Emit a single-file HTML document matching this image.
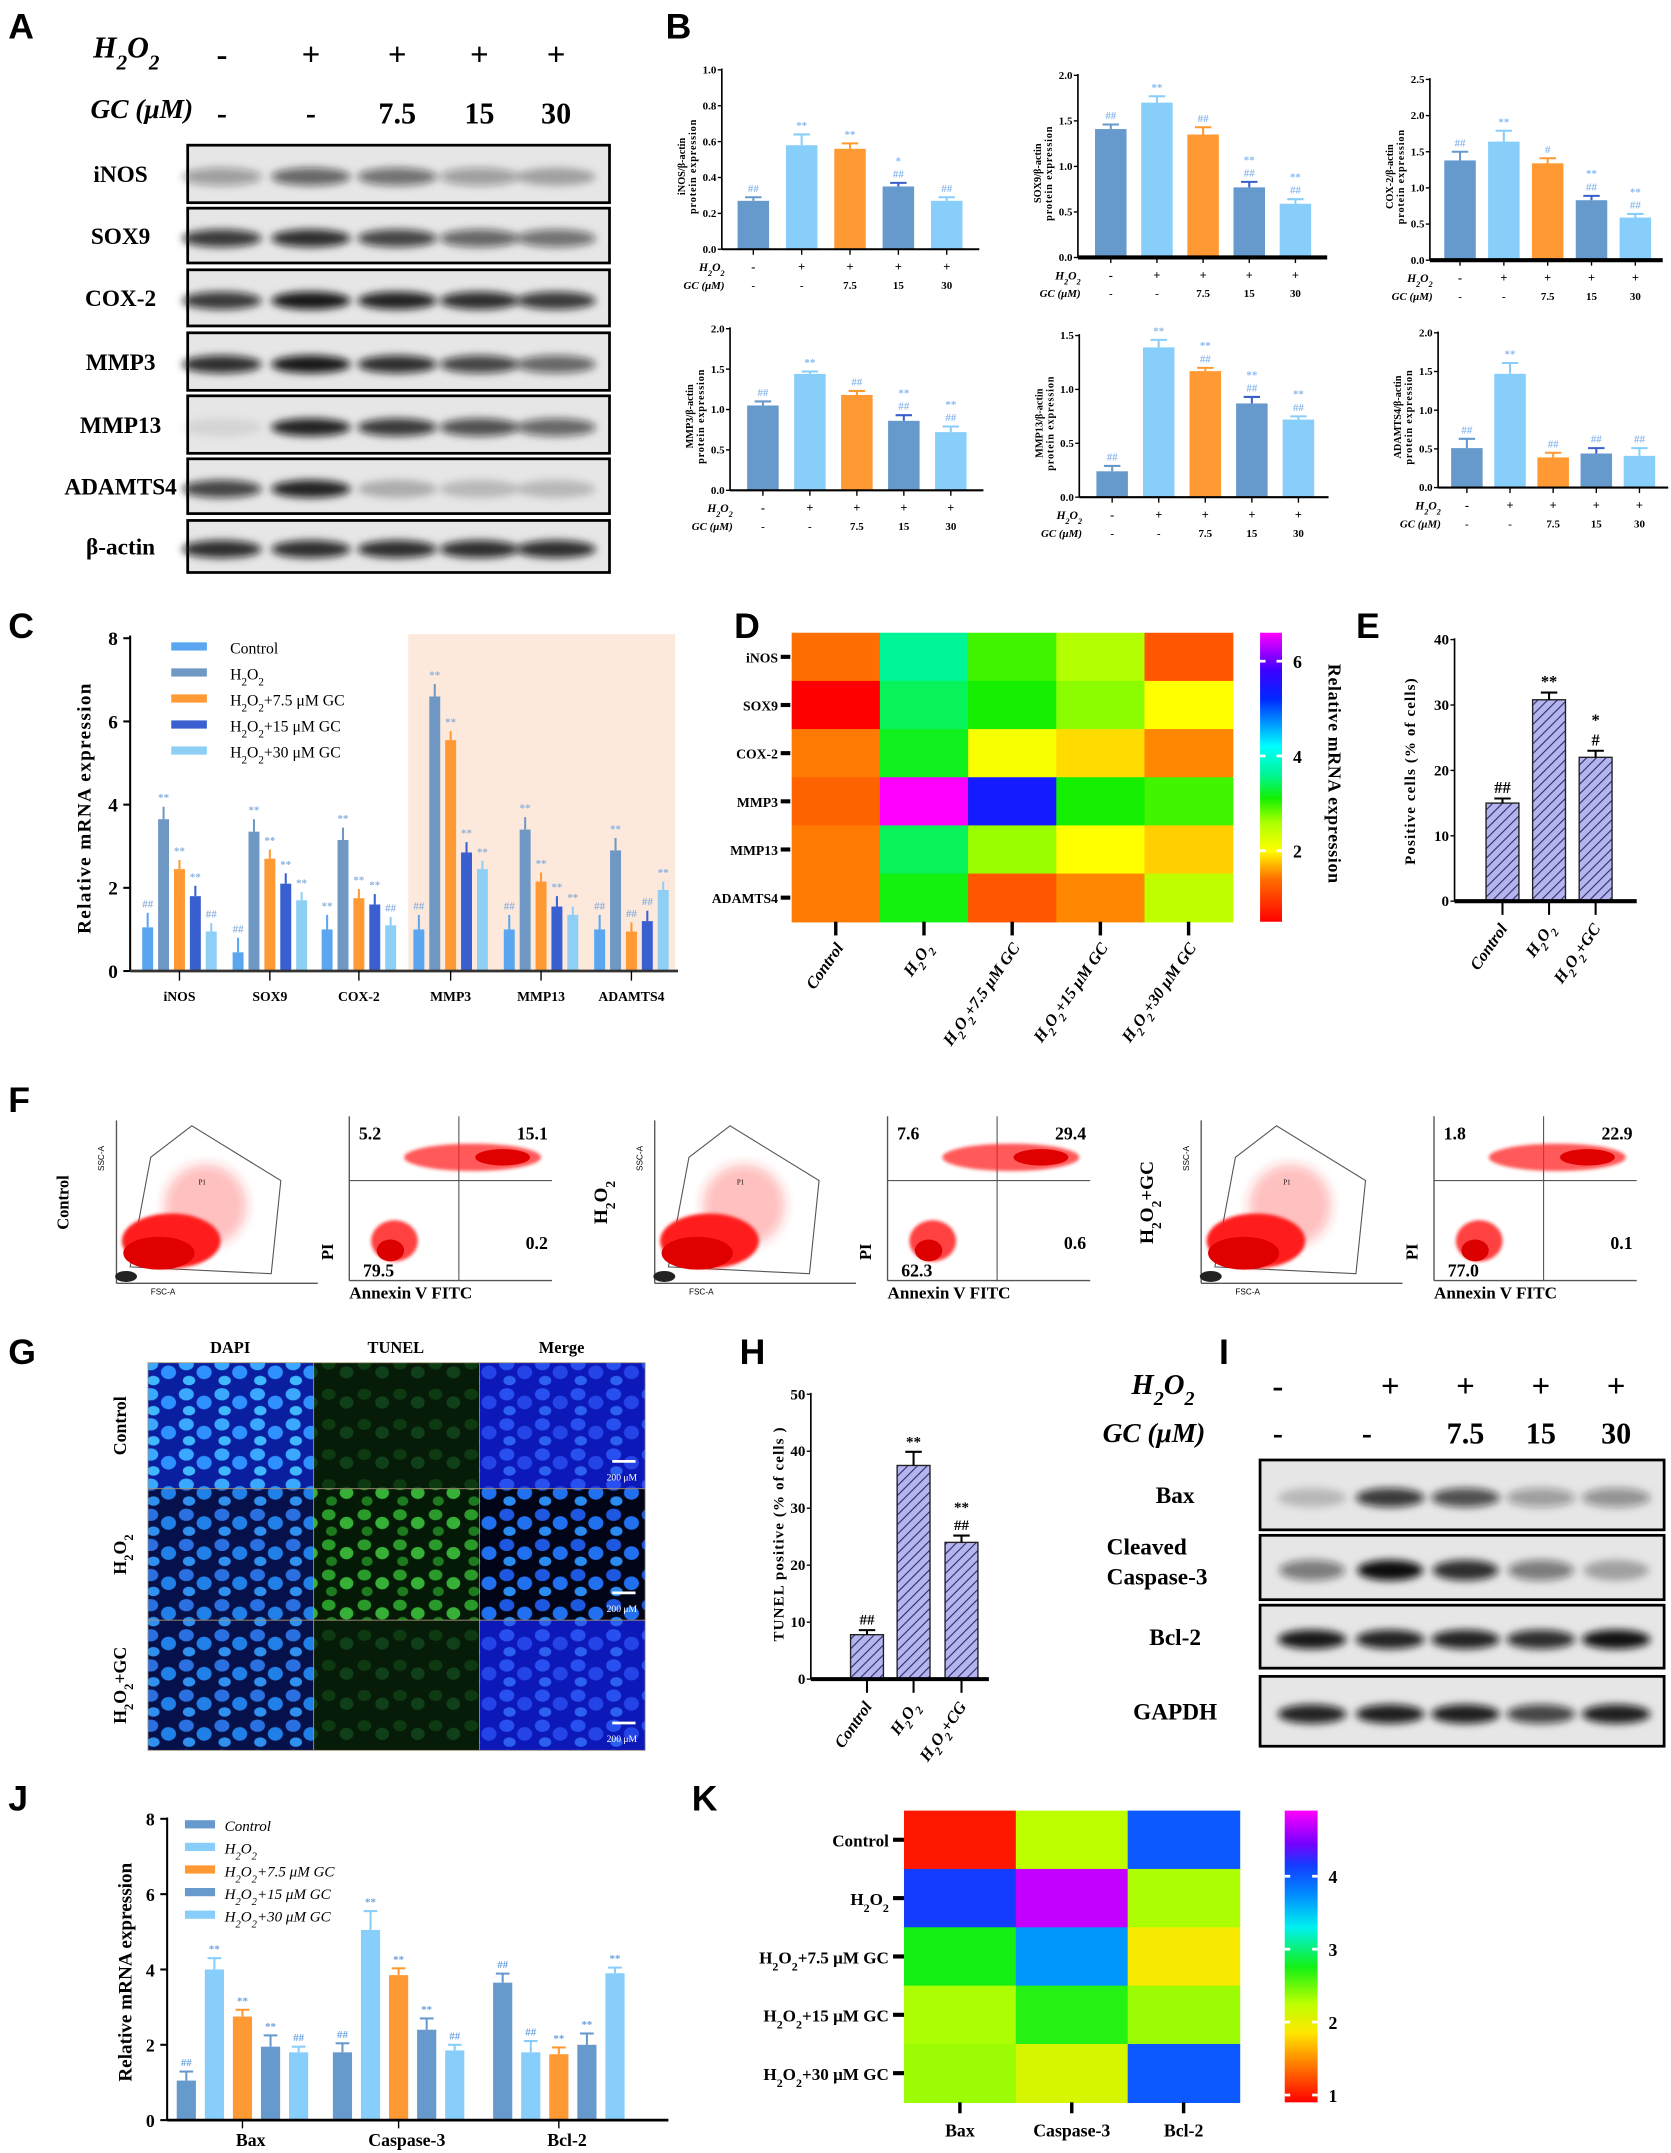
<!DOCTYPE html>
<html><head><meta charset="utf-8"><style>body{margin:0;background:#fff}svg{display:block}</style></head><body>
<svg id="fig" xmlns="http://www.w3.org/2000/svg" width="1671" height="2153" viewBox="0 0 1220 1572" font-family="Liberation Serif, serif">
<defs>
<filter id="blur3" x="-30%" y="-80%" width="160%" height="260%"><feGaussianBlur stdDeviation="3"/></filter>
<filter id="blur1"><feGaussianBlur stdDeviation="1.2"/></filter>
<filter id="blur2"><feGaussianBlur stdDeviation="4"/></filter>
<pattern id="hatch" width="5" height="5" patternUnits="userSpaceOnUse" patternTransform="rotate(45)"><rect width="5" height="5" fill="#b4b4ee"/><line x1="0" y1="0" x2="0" y2="5" stroke="#2a2a6a" stroke-width="1.6"/></pattern>
<pattern id="nucB" width="26" height="22" patternUnits="userSpaceOnUse"><rect width="26" height="22" fill="#0a1fa0"/><ellipse cx="6" cy="6" rx="5.5" ry="4.5" fill="#3aa8ff"/><ellipse cx="19" cy="12" rx="5.5" ry="5" fill="#2f90ff"/><ellipse cx="8" cy="18" rx="4.5" ry="3.5" fill="#40b8ff"/></pattern>
<pattern id="nucB2" width="26" height="22" patternUnits="userSpaceOnUse"><rect width="26" height="22" fill="#06104a"/><ellipse cx="6" cy="6" rx="5.5" ry="4.5" fill="#2a70e0"/><ellipse cx="19" cy="12" rx="5.5" ry="5" fill="#2080e8"/><ellipse cx="8" cy="18" rx="4.5" ry="3.5" fill="#3090f0"/></pattern>
<pattern id="nucM" width="26" height="22" patternUnits="userSpaceOnUse"><rect width="26" height="22" fill="#0c18b8"/><ellipse cx="6" cy="6" rx="5.5" ry="4.5" fill="#2850f0"/><ellipse cx="19" cy="12" rx="5.5" ry="5" fill="#2444e8"/><ellipse cx="8" cy="18" rx="4.5" ry="3.5" fill="#2c60f0"/></pattern>
<pattern id="nucM2" width="26" height="22" patternUnits="userSpaceOnUse"><rect width="26" height="22" fill="#020418"/><ellipse cx="6" cy="6" rx="5.5" ry="4.5" fill="#1e58e0"/><ellipse cx="19" cy="12" rx="5.5" ry="5" fill="#2070f0"/><ellipse cx="8" cy="18" rx="4.5" ry="3.5" fill="#2a8cf0"/></pattern>
<pattern id="nucG" width="26" height="22" patternUnits="userSpaceOnUse"><rect width="26" height="22" fill="#041a06"/><ellipse cx="6" cy="6" rx="5" ry="4" fill="#2a9a2a"/><ellipse cx="19" cy="12" rx="5" ry="4.5" fill="#36b036"/><ellipse cx="8" cy="18" rx="4" ry="3.5" fill="#1e7a1e"/></pattern>
<pattern id="nucG2" width="26" height="22" patternUnits="userSpaceOnUse"><rect width="26" height="22" fill="#061c08"/><ellipse cx="6" cy="6" rx="5" ry="4" fill="#0e3a12"/><ellipse cx="19" cy="12" rx="5" ry="4.5" fill="#10401a"/></pattern>
</defs>
<g id="root"></g>
</svg>
<script>
const S='http://www.w3.org/2000/svg';
const root=document.getElementById('root');
function mk(t,a,p){const e=document.createElementNS(S,t);for(const k in a)e.setAttribute(k,a[k]);(p||root).appendChild(e);return e;}
function sub(s){return s.replace(/H2O2/g,'H<tspan baseline-shift="sub" font-size="70%">2</tspan>O<tspan baseline-shift="sub" font-size="70%">2</tspan>');}
function tx(x,y,s,a,nm,p){const e=mk('text',Object.assign({x:x,y:y},a||{}),p);e.innerHTML=sub(s);


return e;}

/* ---------- DATA ---------- */
const bH2O2=['-','+','+','+','+'];
const bGC=['-','-','7.5','15','30'];
const inosVals=[0.27,0.58,0.56,0.35,0.27];
const inosErr=[0.02,0.06,0.03,0.02,0.02];
const sox9Vals=[1.41,1.70,1.35,0.77,0.59];
const sox9Err=[0.05,0.07,0.08,0.06,0.05];
const cox2Vals=[1.38,1.64,1.34,0.83,0.59];
const cox2Err=[0.12,0.15,0.07,0.06,0.05];
const mmp3Vals=[1.05,1.44,1.18,0.86,0.72];
const mmp3Err=[0.05,0.03,0.05,0.07,0.07];
const mmp13Vals=[0.24,1.39,1.17,0.87,0.72];
const mmp13Err=[0.05,0.07,0.03,0.06,0.03];
const adamVals=[0.51,1.47,0.39,0.44,0.41];
const adamErr=[0.12,0.14,0.06,0.07,0.1];
const bAnnInos=['##','**','**','*\n##','##'];
const bAnnSox=['##','**','##','**\n##','**\n##'];
const bAnnCox=['##','**','#','**\n##','**\n##'];
const bAnnMmp3=['##','**','##','**\n##','**\n##'];
const bAnnMmp13=['##','**','**\n##','**\n##','**\n##'];
const bAnnAdam=['##','**','##','##','##'];

const cGenes=['iNOS','SOX9','COX-2','MMP3','MMP13','ADAMTS4'];
const cControl=[1.05,0.45,1.0,1.0,1.0,1.0];
const cH2O2=[3.65,3.35,3.15,6.6,3.4,2.9];
const cGC75=[2.45,2.7,1.75,5.55,2.15,0.95];
const cGC15=[1.8,2.1,1.6,2.85,1.55,1.2];
const cGC30=[0.95,1.7,1.1,2.45,1.35,1.95];
const cErr=[0.35,0.3,0.22,0.25,0.2];
const cTicks=[0,2,4,6,8];
const cLegend=['Control','H2O2','H2O2+7.5 μM GC','H2O2+15 μM GC','H2O2+30 μM GC'];

const dRows=['iNOS','SOX9','COX-2','MMP3','MMP13','ADAMTS4'];
const dCols=['Control','H2O2','H2O2+7.5 μM GC','H2O2+15 μM GC','H2O2+30 μM GC'];
const dInos=[1.4,3.6,2.95,2.55,1.2];
const dSox9=[0.5,3.4,3.1,2.7,2.0];
const dCox2=[1.45,3.2,2.05,1.85,1.5];
const dMmp3=[1.3,6.6,5.4,3.1,2.95];
const dMmp13=[1.45,3.4,2.65,2.0,1.8];
const dAdam=[1.45,3.15,1.2,1.5,2.45];
const dTicks=[2,4,6];

const eCats=['Control','H2O2','H2O2+GC'];
const eVals=[15,30.8,22];
const eErr=[0.7,1.1,1.0];
const eAnn=['##','**','*\n#'];
const eTicks=[0,10,20,30,40];

const hCats=['Control','H2O2','H2O2+CG'];
const hVals=[7.8,37.5,24];
const hErr=[0.8,2.4,1.2];
const hAnn=['##','**','**\n##'];
const hTicks=[0,10,20,30,40,50];

const jGenes=['Bax','Caspase-3','Bcl-2'];
const jControl=[1.05,1.8,3.65];
const jH2O2=[4.0,5.05,1.8];
const jGC75=[2.75,3.85,1.75];
const jGC15=[1.95,2.4,2.0];
const jGC30=[1.8,1.85,3.9];
const jErr=[0.4,0.5,0.3,0.5,0.25];
const jTicks=[0,2,4,6,8];
const jLegend=['Control','H2O2','H2O2+7.5 μM GC','H2O2+15 μM GC','H2O2+30 μM GC'];

const kRows=['Control','H2O2','H2O2+7.5 μM GC','H2O2+15 μM GC','H2O2+30 μM GC'];
const kCols=['Bax','Caspase-3','Bcl-2'];
const kControl=[1.0,2.25,4.0];
const kH2O2=[4.15,4.7,2.3];
const kGC75=[2.75,3.7,1.9];
const kGC15=[2.3,2.7,2.35];
const kGC30=[2.35,2.1,4.0];
const kTicks=[1,2,3,4];

/* ---------- PANEL LETTERS ---------- */
[['A',6,28],['B',486,28],['C',6,466],['D',536,466],['E',990,466],['F',6,812],['G',6,996],['H',540,996],['I',890,996],['J',6,1322],['K',505,1322]].forEach(function(l){
 const t=tx(l[1],l[2],l[0],{'font-family':'Liberation Sans, sans-serif','font-weight':'bold','font-size':26},'panel-label-'+l[0].toLowerCase());
});

/* ---------- BLOTS ---------- */
function blot(x0,x1,y0,y1,lanes,ints,nm,bw,bh){
 const g=mk('g',{});
 
 
 mk('rect',{x:x0,y:y0,width:x1-x0,height:y1-y0,fill:'#e6e6e6',stroke:'#000','stroke-width':2},g);
 lanes.forEach(function(lx,i){
  const b=mk('ellipse',{cx:lx,cy:(y0+y1)/2+2,rx:bw/2,ry:bh/2,fill:'#111','fill-opacity':ints[i],filter:'url(#blur3)'},g);
  
  
 });
}
// Panel A
tx(68,42,'H2O2',{'font-size':22,'font-weight':'bold','font-style':'italic'},'a-h2o2-label');
tx(66,86,'GC (μM)',{'font-size':20,'font-weight':'bold','font-style':'italic'},'a-gc-label');
const aLanes=[162,227,290,350,406];
aLanes.forEach(function(x,i){
 tx(x,48,bH2O2[i],{'font-size':24,'font-weight':'bold','text-anchor':'middle'},'a-h2o2-sign');
 tx(x,90,bGC[i],{'font-size':22,'font-weight':'bold','text-anchor':'middle'},'a-gc-dose');
});
const aRows=[['iNOS',106,148,[0.35,0.6,0.55,0.35,0.3]],['SOX9',152,192,[0.8,0.85,0.75,0.6,0.55]],['COX-2',197,238,[0.8,0.95,0.9,0.85,0.8]],['MMP3',243,285,[0.85,0.95,0.85,0.75,0.6]],['MMP13',289,331,[0.08,0.9,0.8,0.7,0.6]],['ADAMTS4',335,375,[0.75,0.9,0.25,0.2,0.2]],['β-actin',380,418,[0.85,0.85,0.85,0.85,0.85]]];
aRows.forEach(function(r){
 tx(88,(r[1]+r[2])/2+6,r[0],{'font-size':17,'font-weight':'bold','text-anchor':'middle'},'a-row-label');
 blot(137,445,r[1],r[2],aLanes,r[3],'a-blot-'+r[0].toLowerCase(),58,13);
});
// Panel I
tx(826,1018,'H2O2',{'font-size':21,'font-weight':'bold','font-style':'italic'},'i-h2o2-label');
tx(805,1053,'GC (μM)',{'font-size':20,'font-weight':'bold','font-style':'italic'},'i-gc-label');
const iLanes=[958,1015,1070,1125,1180];
iLanes.forEach(function(x,i){
 tx(x-(i==0?25:0),1020,bH2O2[i]=='-'?'-':'+',{'font-size':24,'font-weight':'bold','text-anchor':'middle'},'i-h2o2-sign');
 tx(x-(i<2?25:0)+ (i==1?8:0),1054,bGC[i],{'font-size':22,'font-weight':'bold','text-anchor':'middle'},'i-gc-dose');
});
const iRows=[['Bax',1066,1117,[0.2,0.8,0.7,0.35,0.4]],['Bcl-2',1172,1218,[0.95,0.9,0.9,0.85,0.98]],['GAPDH',1224,1275,[0.9,0.92,0.92,0.75,0.92]]];
iRows.forEach(function(r){
 tx(858,(r[1]+r[2])/2+6,r[0],{'font-size':17,'font-weight':'bold','text-anchor':'middle'},'i-row-label');
 blot(920,1215,r[1],r[2],iLanes,r[3],'i-blot-'+r[0].toLowerCase(),50,14);
});
tx(808,1135,'Cleaved',{'font-size':17,'font-weight':'bold'},'i-row-label');
tx(808,1157,'Caspase-3',{'font-size':17,'font-weight':'bold'},'i-row-label');
blot(920,1215,1121,1168,iLanes,[0.5,1,0.85,0.5,0.3],'i-blot-cleaved-caspase3',48,15);

/* ---------- BAR CHART helper ---------- */
function bars(o){
 const g=mk('g',{});
 
 
 const sy=function(v){return o.y0-(v/o.max)*(o.y0-o.yTop);};
 o.ticks.forEach(function(t){
  mk('line',{x1:o.ax-3,x2:o.ax,y1:sy(t),y2:sy(t),stroke:'#000','stroke-width':1},g);
  tx(o.ax-4,sy(t)+o.tfs/3,o.fmt?o.fmt(t):String(t),{'font-size':o.tfs,'font-weight':'bold','text-anchor':'end'},'y-tick-label',g);
 });
 const ya=mk('line',{x1:o.ax,x2:o.ax,y1:o.yTop-1,y2:o.y0,stroke:'#000','stroke-width':1.2},g);
 
 
 o.vals.forEach(function(v,i){
  const x=o.xs[i];
  const r=mk('rect',{x:x-o.bw/2,y:sy(v),width:o.bw,height:o.y0-sy(v),fill:o.cols[i]},g);
  
  
  if(o.stroke) r.setAttribute('stroke',o.stroke);
  const ec=o.ecols?o.ecols[i]:o.cols[i];
  const e=v+o.errs[i];
  mk('line',{x1:x,x2:x,y1:sy(v),y2:sy(e),stroke:ec,'stroke-width':1.5},g);
  mk('line',{x1:x-o.cap,x2:x+o.cap,y1:sy(e),y2:sy(e),stroke:ec,'stroke-width':1.5},g);
  if(o.ann&&o.ann[i]){
   const parts=o.ann[i].split('\n');
   parts.forEach(function(p,k){
    tx(x,sy(e)-4-(parts.length-1-k)*o.afs*1.2,p,{'font-size':o.afs,'font-weight':'bold','text-anchor':'middle',fill:o.acol},'significance-mark',g);
   });
  }
 });
 const xa=mk('line',{x1:o.ax,x2:o.x1,y1:o.y0,y2:o.y0,stroke:'#000','stroke-width':o.xw||1.5},g);
 
 
 return {g:g,sy:sy};
}

/* ---------- PANEL B ---------- */
const bColors=['#6699cc','#87cefa','#ff9933','#6699cc','#87cefa'];
const bErrCols=['#6699cc','#87cefa','#ff9933','#3a5fcd','#87cefa'];
const bCharts=[
 {ax:527,x1:715,bx:550,st:35.3,yTop:51,y0:182,max:1.0,ticks:[0,0.2,0.4,0.6,0.8,1.0],v:inosVals,e:inosErr,a:bAnnInos,lab:'iNOS/β-actin',nm:'b-inos-chart',xw:1.5},
 {ax:787,x1:969,bx:811,st:33.7,yTop:55,y0:188,max:2.0,ticks:[0,0.5,1.0,1.5,2.0],v:sox9Vals,e:sox9Err,a:bAnnSox,lab:'SOX9/β-actin',nm:'b-sox9-chart',xw:3},
 {ax:1044,x1:1214,bx:1066,st:32,yTop:58,y0:190,max:2.5,ticks:[0,0.5,1.0,1.5,2.0,2.5],v:cox2Vals,e:cox2Err,a:bAnnCox,lab:'COX-2/β-actin',nm:'b-cox2-chart',xw:3},
 {ax:533,x1:718,bx:557,st:34.3,yTop:240,y0:358,max:2.0,ticks:[0,0.5,1.0,1.5,2.0],v:mmp3Vals,e:mmp3Err,a:bAnnMmp3,lab:'MMP3/β-actin',nm:'b-mmp3-chart',xw:1.5},
 {ax:788,x1:970,bx:812,st:34,yTop:245,y0:363,max:1.5,ticks:[0,0.5,1.0,1.5],v:mmp13Vals,e:mmp13Err,a:bAnnMmp13,lab:'MMP13/β-actin',nm:'b-mmp13-chart',xw:1.5},
 {ax:1050,x1:1218,bx:1071,st:31.5,yTop:243,y0:356,max:2.0,ticks:[0,0.5,1.0,1.5,2.0],v:adamVals,e:adamErr,a:bAnnAdam,lab:'ADAMTS4/β-actin',nm:'b-adamts4-chart',xw:1.5}
];
bCharts.forEach(function(c){
 const xs=[0,1,2,3,4].map(function(i){return c.bx+i*c.st;});
 const r=bars({ax:c.ax,x1:c.x1,y0:c.y0,yTop:c.yTop,max:c.max,ticks:c.ticks,vals:c.v,errs:c.e,xs:xs,cols:bColors,ecols:bErrCols,bw:23,cap:6,ann:c.a,afs:8,acol:'#8ab8ee',tfs:8,name:c.nm,xw:c.xw,fmt:function(t){return t.toFixed(1);}});
 xs.forEach(function(x,i){
  mk('line',{x1:x,x2:x,y1:c.y0,y2:c.y0+4,stroke:'#000'},r.g);
  tx(x,c.y0+16,bH2O2[i],{'font-size':9,'font-weight':'bold','text-anchor':'middle'},'x-h2o2-sign',r.g);
  tx(x,c.y0+29,bGC[i],{'font-size':8,'font-weight':'bold','text-anchor':'middle'},'x-gc-dose',r.g);
 });
 tx(c.ax+2,c.y0+16,'H2O2',{'font-size':8.5,'font-weight':'bold','font-style':'italic','text-anchor':'end'},'x-h2o2-label',r.g);
 tx(c.ax+2,c.y0+29,'GC (μM)',{'font-size':8,'font-weight':'bold','font-style':'italic','text-anchor':'end'},'x-gc-label',r.g);
 const cy=(c.y0+c.yTop)/2+5;
 tx(c.ax-27,cy,c.lab,{'font-size':7.5,'font-weight':'bold','text-anchor':'middle',transform:'rotate(-90 '+(c.ax-27)+' '+cy+')'},'y-axis-title',r.g);
 tx(c.ax-19,cy,'protein expression',{'font-size':7.5,'font-weight':'bold','text-anchor':'middle','letter-spacing':0.6,transform:'rotate(-90 '+(c.ax-19)+' '+cy+')'},'y-axis-title',r.g);
});

/* ---------- PANEL C ---------- */
mk('rect',{x:298,y:463,width:195,height:246,fill:'#fde9dc'});
const cCols=['#5aa6f0','#7098c4','#ff9933','#3a5fd0','#8ecff5'];
const cSeries=[cControl,cH2O2,cGC75,cGC15,cGC30];
const cCenters=[131,197,262,329,395,461];
const cG=mk('g',{});


const cSy=function(v){return 709-v/8*243;};
cTicks.forEach(function(t){
 mk('line',{x1:90,x2:95,y1:cSy(t),y2:cSy(t),stroke:'#000','stroke-width':1.5},cG);
 tx(86,cSy(t)+5,String(t),{'font-size':14,'font-weight':'bold','text-anchor':'end'},'c-y-tick',cG);
});
mk('line',{x1:95,x2:95,y1:464,y2:709,stroke:'#000','stroke-width':1.5},cG);
cSeries.forEach(function(ser,s){
 ser.forEach(function(v,g){
  const x=cCenters[g]+(s-2)*11.6;
  const r=mk('rect',{x:x-4,y:cSy(v),width:8,height:709-cSy(v),fill:cCols[s]},cG);
  
  
  mk('line',{x1:x,x2:x,y1:cSy(v),y2:cSy(v+cErr[s]),stroke:cCols[s],'stroke-width':1.5},cG);
  const mark=(s==0)?(g==2?'**':'##'):(s==1?'**':(v>1.3?'**':'##'));
  tx(x,cSy(v+cErr[s])-4,mark,{'font-size':8,'font-weight':'bold','text-anchor':'middle',fill:'#8ab0dd'},'c-significance',cG);
 });
});
mk('line',{x1:95,x2:495,y1:709,y2:709,stroke:'#333','stroke-width':2},cG);
cGenes.forEach(function(n,g){
 mk('line',{x1:cCenters[g],x2:cCenters[g],y1:709,y2:716,stroke:'#000'},cG);
 tx(cCenters[g],731,n,{'font-size':10,'font-weight':'bold','text-anchor':'middle'},'c-x-label',cG);
});
const cyT=590;
tx(66,cyT,'Relative mRNA expression',{'font-size':14,'font-weight':'bold','text-anchor':'middle','letter-spacing':1,transform:'rotate(-90 66 '+cyT+')'},'c-y-axis-title',cG);
cLegend.forEach(function(l,i){
 const y=474+i*19;
 const sw=mk('rect',{x:125,y:y-5,width:26,height:6,fill:cCols[i]},cG);
 
 
 tx(168,y+3,l,{'font-size':11.5},'c-legend-entry',cG);
});

/* ---------- HEATMAP helper ---------- */
function lerpColor(stops,v){
 if(v<=stops[0][0])return stops[0][1];
 for(let i=1;i<stops.length;i++){
  if(v<=stops[i][0]){const a=stops[i-1],b=stops[i];const f=(v-a[0])/(b[0]-a[0]);
   return 'rgb('+[0,1,2].map(function(k){return Math.round(a[1][k]+(b[1][k]-a[1][k])*f);}).join(',')+')';}
 }
 return stops[stops.length-1][1];
}
function toRgb(c){return typeof c==='string'?c:'rgb('+c.join(',')+')';}
function heat(o){
 const g=mk('g',{});
 
 
 const cw=(o.x1-o.x0)/o.cols.length, rh=(o.y1-o.y0)/o.rows.length;
 o.data.forEach(function(row,r){
  row.forEach(function(v,c){
   const cell=mk('rect',{x:o.x0+c*cw,y:o.y0+r*rh,width:cw+0.5,height:rh+0.5,fill:toRgb(lerpColor(o.stops,v))},g);
   
   
  });
 });
 const gid=o.name+'-grad';
 const lg=mk('linearGradient',{id:gid,x1:0,y1:1,x2:0,y2:0},document.querySelector('defs'));
 o.stops.forEach(function(s){mk('stop',{offset:(s[0]-o.vmin)/(o.vmax-o.vmin),'stop-color':toRgb(s[1])},lg);});
 const cb=mk('rect',{x:o.cbx,y:o.y0,width:o.cbw,height:o.y1-o.y0,fill:'url(#'+gid+')'},g);
 
 
 const cy=function(v){return o.y1-(v-o.vmin)/(o.vmax-o.vmin)*(o.y1-o.y0);};
 o.ticks.forEach(function(t){
  mk('line',{x1:o.cbx+o.cbw-4,x2:o.cbx+o.cbw,y1:cy(t),y2:cy(t),stroke:'#fff','stroke-width':2},g);
  mk('line',{x1:o.cbx,x2:o.cbx+4,y1:cy(t),y2:cy(t),stroke:'#fff','stroke-width':2},g);
  tx(o.cbx+o.cbw+8,cy(t)+5,String(t),{'font-size':o.tfs,'font-weight':'bold'},'colorbar-tick',g);
 });
 return {g:g,cw:cw,rh:rh};
}

/* ---------- PANEL D ---------- */
const dStops=[[0.5,[255,0,0]],[1.4,[255,110,0]],[2.0,[255,255,0]],[2.6,[170,255,0]],[3.1,[20,240,0]],[3.6,[0,245,150]],[4.2,[0,255,255]],[5.2,[0,40,255]],[5.8,[60,0,255]],[6.6,[255,0,255]]];
const D=heat({name:'d-heatmap',x0:578,x1:900,y0:462,y1:673,rows:dRows,cols:dCols,data:[dInos,dSox9,dCox2,dMmp3,dMmp13,dAdam],stops:dStops,vmin:0.5,vmax:6.6,cbx:920,cbw:16,ticks:dTicks,tfs:13});
dRows.forEach(function(n,r){
 const y=462+(r+0.5)*D.rh;
 mk('line',{x1:570,x2:577,y1:y,y2:y,stroke:'#000','stroke-width':3},D.g);
 tx(568,y+4,n,{'font-size':10,'font-weight':'bold','text-anchor':'end'},'d-row-label',D.g);
});
dCols.forEach(function(n,c){
 const x=578+(c+0.5)*D.cw;
 mk('line',{x1:x,x2:x,y1:673,y2:683,stroke:'#000','stroke-width':2.5},D.g);
 tx(x+6,692,n,{'font-size':12,'font-weight':'bold','font-style':'italic','text-anchor':'end',transform:'rotate(-55 '+(x+6)+' 692)'},'d-col-label',D.g);
});
tx(970,565,'Relative mRNA expression',{'font-size':13,'font-weight':'bold','text-anchor':'middle','letter-spacing':0.5,transform:'rotate(90 970 565)'},'d-colorbar-title',D.g);

/* ---------- PANEL E ---------- */
const eXs=[1097,1131,1165];
const E=bars({ax:1062,x1:1195,y0:658,yTop:467,max:40,ticks:eTicks,vals:eVals,errs:eErr,xs:eXs,cols:['url(#hatch)','url(#hatch)','url(#hatch)'],ecols:['#000','#000','#000'],stroke:'#222',bw:24,cap:6,ann:eAnn,afs:12,acol:'#000',tfs:11,name:'e-positive-cells-chart',xw:3});
eXs.forEach(function(x,i){
 mk('line',{x1:x,x2:x,y1:658,y2:668,stroke:'#000','stroke-width':1.5},E.g);
 tx(x+4,678,eCats[i],{'font-size':12,'font-weight':'bold','font-style':'italic','text-anchor':'end',transform:'rotate(-55 '+(x+4)+' 678)'},'e-x-label',E.g);
});
tx(1033,563,'Positive cells (% of cells)',{'font-size':11,'font-weight':'bold','text-anchor':'middle','letter-spacing':0.8,transform:'rotate(-90 1033 563)'},'e-y-axis-title',E.g);

/* ---------- PANEL F (flow cytometry) ---------- */
const fGroups=[{dx:0,name:'Control',q:['5.2','15.1','79.5','0.2']},{dx:393,name:'H2O2',q:['7.6','29.4','62.3','0.6']},{dx:792,name:'H2O2+GC',q:['1.8','22.9','77.0','0.1']}];
fGroups.forEach(function(gr,gi){
 const g=mk('g',{transform:'translate('+gr.dx+',0)'});
 
 
 mk('line',{x1:85,x2:85,y1:818,y2:937,stroke:'#555'},g);
 mk('line',{x1:85,x2:232,y1:937,y2:937,stroke:'#555'},g);
 mk('polygon',{points:'95,925 110,845 140,822 205,862 198,930',fill:'none',stroke:'#555','stroke-width':0.8},g);
 mk('ellipse',{cx:150,cy:880,rx:30,ry:30,fill:'#ff3030','fill-opacity':0.3,filter:'url(#blur2)'},g);
 mk('ellipse',{cx:125,cy:906,rx:36,ry:20,fill:'#ff1a1a',filter:'url(#blur1)'},g);
 mk('ellipse',{cx:116,cy:915,rx:26,ry:12,fill:'#e00000'},g);
 mk('ellipse',{cx:92,cy:932,rx:8,ry:4,fill:'#222'},g);
 tx(145,865,'P1',{'font-size':5},'f-gate-label',g);
 tx(110,945,'FSC-A',{'font-size':6,'font-family':'Liberation Sans, sans-serif'},'f-fsc-label',g);
 tx(76,855,'SSC-A',{'font-size':6,'font-family':'Liberation Sans, sans-serif',transform:'rotate(-90 76 855)'},'f-ssc-label',g);
 tx(50,878,gr.name,{'font-size':gi==0?12:14,'font-weight':'bold','text-anchor':'middle',transform:'rotate(-90 50 878)'},'f-group-label',g);
 const q0=255;
 mk('line',{x1:q0,x2:q0,y1:815,y2:935,stroke:'#555'},g);
 mk('line',{x1:q0,x2:q0+148,y1:935,y2:935,stroke:'#555'},g);
 mk('line',{x1:q0+80,x2:q0+80,y1:815,y2:935,stroke:'#555','stroke-width':0.8},g);
 mk('line',{x1:q0,x2:q0+148,y1:862,y2:862,stroke:'#555','stroke-width':0.8},g);
 mk('ellipse',{cx:q0+90,cy:845,rx:50,ry:10,fill:'#ff2020','fill-opacity':0.75,filter:'url(#blur1)'},g);
 mk('ellipse',{cx:q0+112,cy:845,rx:20,ry:6,fill:'#e00000'},g);
 mk('ellipse',{cx:q0+33,cy:906,rx:17,ry:15,fill:'#ff2020','fill-opacity':0.85,filter:'url(#blur1)'},g);
 mk('ellipse',{cx:q0+30,cy:913,rx:10,ry:8,fill:'#dd0000'},g);
 tx(q0+7,832,gr.q[0],{'font-size':13,'font-weight':'bold'},'f-q1-value',g);
 tx(q0+145,832,gr.q[1],{'font-size':13,'font-weight':'bold','text-anchor':'end'},'f-q2-value',g);
 tx(q0+10,932,gr.q[2],{'font-size':13,'font-weight':'bold'},'f-q3-value',g);
 tx(q0+145,912,gr.q[3],{'font-size':13,'font-weight':'bold','text-anchor':'end'},'f-q4-value',g);
 tx(q0-12,920,'PI',{'font-size':12,'font-weight':'bold',transform:'rotate(-90 '+(q0-12)+' 920)'},'f-pi-label',g);
 tx(q0,948,'Annexin V FITC',{'font-size':12.5,'font-weight':'bold'},'f-annexin-label',g);
});

/* ---------- PANEL G (microscopy) ---------- */
const gFills=[['url(#nucB)','url(#nucG2)','url(#nucM)'],['url(#nucB2)','url(#nucG)','url(#nucM2)'],['url(#nucB2)','url(#nucG2)','url(#nucM)']];
const gXs=[108,229,350], gYs=[995,1087,1183], gW=121, gHs=[92,96,95];
['DAPI','TUNEL','Merge'].forEach(function(h,i){tx(gXs[i]+60,988,h,{'font-size':12,'font-weight':'bold','text-anchor':'middle'},'g-column-header');});
['Control','H2O2','H2O2+GC'].forEach(function(h,r){const y=gYs[r]+gHs[r]/2,x=92;tx(x,y,h,{'font-size':13,'font-weight':'bold','text-anchor':'middle',transform:'rotate(-90 '+x+' '+y+')'},'g-row-label');});
gFills.forEach(function(row,r){row.forEach(function(f,c){
 const im=mk('rect',{x:gXs[c],y:gYs[r],width:gW,height:gHs[r],fill:f,stroke:'#a09070','stroke-width':0.6});
 
 
 if(c==2){mk('line',{x1:gXs[c]+97,x2:gXs[c]+114,y1:gYs[r]+gHs[r]-20,y2:gYs[r]+gHs[r]-20,stroke:'#fff','stroke-width':2});
  tx(gXs[c]+104,gYs[r]+gHs[r]-6,'200 μM',{'font-size':7,fill:'#fff','text-anchor':'middle'},'g-scale-bar-label');}
});});

/* ---------- PANEL H ---------- */
const hXs=[633,667,702];
const H=bars({ax:592,x1:722,y0:1226,yTop:1018,max:50,ticks:hTicks,vals:hVals,errs:hErr,xs:hXs,cols:['url(#hatch)','url(#hatch)','url(#hatch)'],ecols:['#000','#000','#000'],stroke:'#222',bw:24,cap:6,ann:hAnn,afs:11,acol:'#000',tfs:11,name:'h-tunel-chart',xw:3});
hXs.forEach(function(x,i){
 mk('line',{x1:x,x2:x,y1:1226,y2:1236,stroke:'#000','stroke-width':1.5},H.g);
 tx(x+4,1246,hCats[i],{'font-size':12,'font-weight':'bold','font-style':'italic','text-anchor':'end',transform:'rotate(-55 '+(x+4)+' 1246)'},'h-x-label',H.g);
});
tx(572,1120,'TUNEL positive  (% of cells )',{'font-size':11,'font-weight':'bold','text-anchor':'middle','letter-spacing':0.8,transform:'rotate(-90 572 1120)'},'h-y-axis-title',H.g);

/* ---------- PANEL J ---------- */
const jCols=['#6699cc','#87cefa','#ff9933','#6699cc','#87cefa'];
const jSeries=[jControl,jH2O2,jGC75,jGC15,jGC30];
const jCenters=[177,291,408];
const jG=mk('g',{});


const jSy=function(v){return 1548-v/8*220;};
jTicks.forEach(function(t){
 mk('line',{x1:117,x2:122,y1:jSy(t),y2:jSy(t),stroke:'#000','stroke-width':1.5},jG);
 tx(113,jSy(t)+5,String(t),{'font-size':13,'font-weight':'bold','text-anchor':'end'},'j-y-tick',jG);
});
mk('line',{x1:122,x2:122,y1:1327,y2:1548,stroke:'#000','stroke-width':1.5},jG);
jSeries.forEach(function(ser,s){
 ser.forEach(function(v,g){
  const x=jCenters[g]+(s-2)*20.5;
  const r=mk('rect',{x:x-7,y:jSy(v),width:14,height:1548-jSy(v),fill:jCols[s]},jG);
  
  
  const ev=v+jErr[s]*(g==1&&s==1?1:0.6);
  mk('line',{x1:x,x2:x,y1:jSy(v),y2:jSy(ev),stroke:jCols[s],'stroke-width':1.5},jG);
  mk('line',{x1:x-5,x2:x+5,y1:jSy(ev),y2:jSy(ev),stroke:jCols[s],'stroke-width':1.5},jG);
  const mark=(s==0)?'##':(s==1?(g==2?'##':'**'):(s==4&&g<2?'##':'**'));
  tx(x,jSy(ev)-4,mark,{'font-size':8,'font-weight':'bold','text-anchor':'middle',fill:'#6aa2e0'},'j-significance',jG);
 });
});
mk('line',{x1:122,x2:488,y1:1548,y2:1548,stroke:'#000','stroke-width':2},jG);
jGenes.forEach(function(n,g){
 mk('line',{x1:jCenters[g],x2:jCenters[g],y1:1548,y2:1554,stroke:'#000'},jG);
 tx(jCenters[g]+6,1567,n,{'font-size':13,'font-weight':'bold','text-anchor':'middle'},'j-x-label',jG);
});
tx(96,1440,'Relative mRNA expression',{'font-size':14,'font-weight':'bold','text-anchor':'middle',transform:'rotate(-90 96 1440)'},'j-y-axis-title',jG);
jLegend.forEach(function(l,i){
 const y=1333+i*16.5;
 const sw=mk('rect',{x:135,y:y-4,width:22,height:6,fill:jCols[i]},jG);
 
 
 tx(164,y+4,l,{'font-size':11,'font-style':'italic'},'j-legend-entry',jG);
});

/* ---------- PANEL K ---------- */
const kStops=[[0.9,[255,0,0]],[1.4,[255,120,0]],[1.85,[255,230,0]],[2.25,[190,255,0]],[2.75,[20,240,20]],[3.3,[0,240,240]],[3.75,[0,140,255]],[4.15,[20,60,255]],[4.45,[120,0,255]],[4.9,[255,0,255]]];
const K=heat({name:'k-heatmap',x0:660,x1:905,y0:1322,y1:1535,rows:kRows,cols:kCols,data:[kControl,kH2O2,kGC75,kGC15,kGC30],stops:kStops,vmin:0.9,vmax:4.9,cbx:938,cbw:24,ticks:kTicks,tfs:13});
kRows.forEach(function(n,r){
 const y=1322+(r+0.5)*K.rh;
 mk('line',{x1:652,x2:660,y1:y,y2:y,stroke:'#000','stroke-width':3},K.g);
 tx(649,y+5,n,{'font-size':12.5,'font-weight':'bold','text-anchor':'end'},'k-row-label',K.g);
});
kCols.forEach(function(n,c){
 const x=660+(c+0.5)*K.cw;
 mk('line',{x1:x,x2:x,y1:1535,y2:1543,stroke:'#000','stroke-width':2.5},K.g);
 tx(x,1560,n,{'font-size':13,'font-weight':'bold','text-anchor':'middle'},'k-col-label',K.g);
});
</script>
</body></html>
